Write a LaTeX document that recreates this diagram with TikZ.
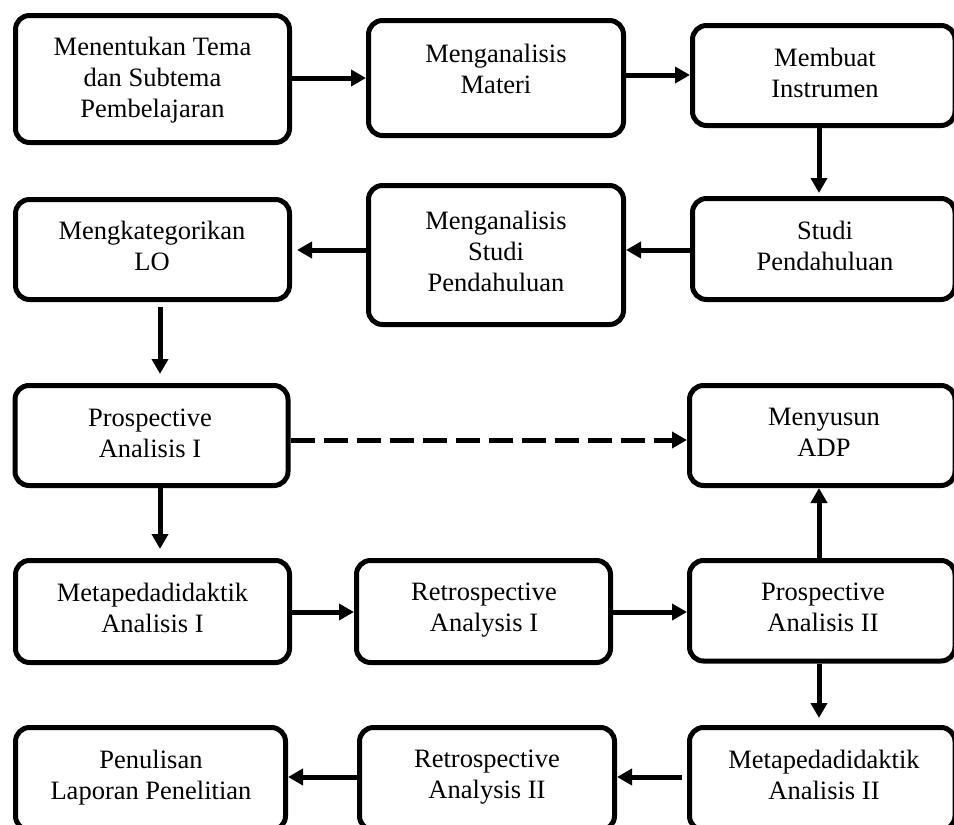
\documentclass[tikz,border=0pt]{standalone}
\usepackage{fontspec}
\setmainfont{Liberation Serif}
\usetikzlibrary{arrows.meta}
\newcommand\bx[5]{\node[box, minimum width={#4-#2}, minimum height={#5-#3}] (#1) at ({(#2+#4)/2},{(#3+#5)/2}) {};}
\begin{document}
\begin{tikzpicture}[x=1pt,y=-1pt,
  box/.style={draw, line width=5pt, rounded corners=14pt, inner sep=0pt, fill=white},
  txt/.style={align=center, inner sep=0pt, font=\fontsize{26.5}{31}\selectfont,
     execute at begin node=\strut, execute at end node=\strut, yshift=-3pt},
  arr/.style={line width=5pt, -{Triangle[length=15pt,width=16pt]}},
  dashline/.style={dash pattern=on 24pt off 9pt}
]
\path[use as bounding box, fill=white] (0,0) rectangle (954,825);

\bx{A}{15.5}{15.5}{289.5}{142.5}
\bx{B}{368.5}{20.5}{623.5}{135.5}
\bx{C}{692.5}{25.5}{955}{125.5}
\bx{D}{15.5}{199.5}{289.5}{299.5}
\bx{E}{368.5}{185.5}{623.5}{324.5}
\bx{F}{692.5}{198.5}{955}{299.5}
\bx{G}{15}{385.5}{288}{485.5}
\bx{H}{689.5}{385.5}{955}{485.5}
\bx{I}{15.5}{560.5}{289.5}{662.5}
\bx{J}{356.5}{560.5}{610.5}{662.5}
\bx{K}{689.5}{560.5}{955}{661}
\bx{L}{15.5}{727.5}{285.5}{830}
\bx{M}{359.5}{727.5}{614.5}{830}
\bx{N}{689.5}{727.5}{955}{830}

\node[txt] (tA) at (152.5,79) {Menentukan Tema\\dan Subtema\\Pembelajaran};
\node[txt] (tB) at (496,70) {Menganalisis\\Materi};
\node[txt] (tC) at (825,74) {Membuat\\Instrumen};
\node[txt] (tD) at (152,247) {Mengkategorikan\\LO};
\node[txt] (tE) at (496,253) {Menganalisis\\Studi\\Pendahuluan};
\node[txt] (tF) at (825,247) {Studi\\Pendahuluan};
\node[txt] (tG) at (150,435) {Prospective\\Analisis I};
\node[txt] (tH) at (824,434) {Menyusun\\ADP};
\node[txt] (tI) at (152.5,609) {Metapedadidaktik\\Analisis I};
\node[txt] (tJ) at (484,609) {Retrospective\\Analysis I};
\node[txt] (tK) at (823,609) {Prospective\\Analisis II};
\node[txt] (tL) at (151,776) {Penulisan\\Laporan Penelitian};
\node[txt] (tM) at (487,776) {Retrospective\\Analysis II};
\node[txt] (tN) at (824,776) {Metapedadidaktik\\Analisis II};

\coordinate (r1a) at (0,78);
\coordinate (r1b) at (0,75);
\coordinate (r2) at (0,250);
\coordinate (r3) at (0,440);
\coordinate (r4) at (0,612);
\coordinate (r5) at (0,777);
\coordinate (cl) at (160,0);
\coordinate (cr) at (819,0);

\draw[arr] (A.east |- r1a) -- (B.west |- r1a);
\draw[arr] (B.east |- r1b) -- (C.west |- r1b);
\draw[arr, shorten >=3pt] (C.south -| cr) -- (F.north -| cr);
\draw[arr] (F.west |- r2) -- (E.east |- r2);
\draw[arr, shorten >=5pt] (E.west |- r2) -- (D.east |- r2);
\draw[arr, shorten <=5pt, shorten >=9pt] (D.south -| cl) -- (G.north -| cl);
\draw[arr, dashline] (G.east |- r3) -- (H.west |- r3);
\draw[arr, shorten >=9pt] (G.south -| cl) -- (I.north -| cl);
\draw[arr] (I.east |- r4) -- (J.west |- r4);
\draw[arr] (J.east |- r4) -- (K.west |- r4);
\draw[arr] (K.north -| cr) -- (H.south -| cr);
\draw[arr, shorten >=7pt] (K.south -| cr) -- (N.north -| cr);
\draw[arr, shorten <=5pt] (N.west |- r5) -- (M.east |- r5);
\draw[arr] (M.west |- r5) -- (L.east |- r5);
\end{tikzpicture}
\end{document}
